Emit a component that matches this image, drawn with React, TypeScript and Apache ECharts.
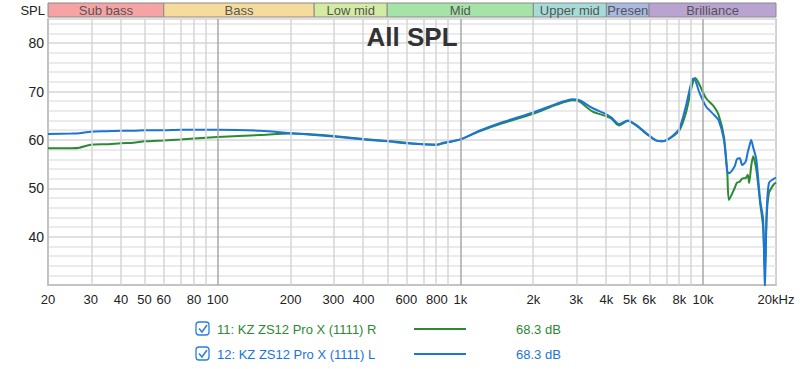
import React, { useEffect, useRef } from 'react';
import * as echarts from 'echarts';

const freqs = [20, 25, 27, 30, 35, 40, 45, 50, 60, 70, 80, 100, 150, 200, 250, 300, 400, 500, 600, 700, 800, 850, 900, 1000, 1200, 1500, 2000, 2500, 2900, 3100, 3500, 4000, 4200, 4500, 4900, 5300, 5900, 6400, 6800, 7400, 8000, 8500, 8900, 9100, 9300, 9700, 10300, 11100, 11600, 12200, 12600, 12800, 13500, 13800, 14200, 14500, 15000, 15300, 15500, 15800, 16100, 16600, 17200, 17700, 18000, 18300, 18700, 19500, 20000];

const rightDb = [58.3, 58.3, 58.4, 59.0, 59.1, 59.3, 59.4, 59.7, 59.9, 60.1, 60.3, 60.6, 61.0, 61.3, 61.1, 60.8, 60.2, 59.8, 59.4, 59.1, 59.0, 59.3, 59.6, 60.1, 61.8, 63.5, 65.4, 67.3, 68.2, 67.9, 65.9, 64.9, 64.4, 63.0, 63.9, 63.0, 61.1, 59.9, 59.7, 60.5, 62.0, 65.5, 70.0, 72.0, 72.8, 71.3, 68.6, 66.9, 65.2, 60.7, 53.1, 47.6, 50.0, 51.1, 51.4, 52.0, 52.1, 52.8, 51.1, 54.5, 56.6, 53.8, 47.0, 42.0, 33.0, 44.0, 49.0, 50.7, 51.2];

const leftDb = [61.2, 61.3, 61.4, 61.7, 61.8, 61.9, 61.9, 62.0, 62.0, 62.1, 62.1, 62.1, 61.9, 61.4, 61.0, 60.7, 60.1, 59.7, 59.3, 59.1, 59.0, 59.4, 59.6, 60.1, 61.9, 63.7, 65.7, 67.5, 68.4, 68.2, 66.6, 65.3, 64.6, 63.3, 64.0, 63.1, 61.2, 59.9, 59.7, 60.6, 62.4, 66.9, 71.3, 72.7, 72.3, 69.6, 66.9, 65.2, 64.1, 60.0, 53.5, 53.1, 54.5, 56.0, 56.2, 54.8, 55.5, 57.5, 58.5, 60.0, 58.5, 55.9, 47.6, 43.5, 29.0, 45.0, 51.1, 51.9, 52.2];

const xTickFreqs = [20, 30, 40, 50, 60, 80, 100, 200, 300, 400, 600, 800, 1000, 2000, 3000, 4000, 5000, 6000, 8000, 10000, 20000];
const gridFreqs = [30, 40, 50, 60, 70, 80, 90, 100, 200, 300, 400, 500, 600, 700, 800, 900, 1000, 2000, 3000, 4000, 5000, 6000, 7000, 8000, 9000, 10000];
const majorGridFreqs = [100, 1000, 10000];

const bandNames = ['Sub bass', 'Bass', 'Low mid', 'Mid', 'Upper mid', 'Presence', 'Brilliance'];
const bandEdges = [20, 60, 250, 500, 2000, 4000, 6000, 20000];
const bandColors = ['#f5a3a5', '#f6dc9c', '#d3eba2', '#a6e3a6', '#a6dcd7', '#a9b9e2', '#b9a3d0'];

const legendNames = ['11: KZ ZS12 Pro X (1111) R', '12: KZ ZS12 Pro X (1111) L'];
const legendValues = ['68.3 dB', '68.3 dB'];
const seriesColors = ['#2b8a32', '#1b74da'];

const FONT = '"Liberation Sans", Arial, Helvetica, sans-serif';
const lg = (f: number) => Math.log10(f);

function fmtFreq(v: number): string {
  const f = Math.round(Math.pow(10, v));
  if (f >= 20000) return '20kHz';
  if (f >= 1000) return f / 1000 + 'k';
  return String(f);
}

export default function App() {
  const ref = useRef<HTMLDivElement>(null);

  useEffect(() => {
    if (!ref.current) return;
    const chart = echarts.init(ref.current, null, { renderer: 'svg' });

    const legendGraphics: any[] = [];
    legendNames.forEach((name, i) => {
      const cy = 329 + i * 25;
      const c = seriesColors[i];
      legendGraphics.push(
        {
          type: 'rect',
          shape: { x: 196, y: cy - 7, width: 13, height: 13, r: 3 },
          style: { fill: '#fff', stroke: '#2a7de1', lineWidth: 1.3 },
        },
        {
          type: 'polyline',
          shape: { points: [[199, cy - 0.5], [202, cy + 3], [207, cy - 4]] },
          style: { fill: 'none', stroke: '#2a7de1', lineWidth: 1.5 },
        },
        {
          type: 'text',
          x: 217,
          y: cy,
          style: { text: name, fill: c, font: `13px ${FONT}`, textVerticalAlign: 'middle', textAlign: 'left' },
        },
        {
          type: 'line',
          shape: { x1: 414, y1: cy, x2: 466, y2: cy },
          style: { stroke: c, lineWidth: 2 },
        },
        {
          type: 'text',
          x: 516,
          y: cy,
          style: { text: legendValues[i], fill: c, font: `13px ${FONT}`, textVerticalAlign: 'middle', textAlign: 'left' },
        }
      );
    });

    const bandAreas = bandNames.map((name, i) => [
      {
        name,
        xAxis: lg(bandEdges[i]),
        itemStyle: { color: bandColors[i], borderColor: '#8a8a8a', borderWidth: 1 },
        label:
          name === 'Presence'
            ? { width: 46, overflow: 'truncate', ellipsis: '' }
            : undefined,
      },
      { xAxis: lg(bandEdges[i + 1]) },
    ]);

    const option: any = {
      animation: false,
      backgroundColor: '#fff',
      textStyle: { fontFamily: FONT },
      grid: [
        {
          left: 48, right: 24, top: 19, bottom: 84,
          show: true, borderColor: '#c4c4c4', borderWidth: 1.5, backgroundColor: '#fff',
        },
        { left: 48, right: 24, top: 3, height: 14, show: false },
      ],
      xAxis: [
        {
          type: 'value', gridIndex: 0,
          min: lg(20), max: lg(20000),
          axisLine: { show: true, lineStyle: { color: '#bdbdbd', width: 1.5 } },
          axisTick: { show: false },
          splitLine: { show: false },
          axisLabel: {
            customValues: xTickFreqs.map(lg),
            formatter: (v: number) => fmtFreq(v),
            color: '#222', fontSize: 13, fontFamily: FONT, margin: 8,
            showMinLabel: true, showMaxLabel: true,
          },
        },
        {
          type: 'value', gridIndex: 1, min: lg(20), max: lg(20000),
          show: false,
        },
      ],
      yAxis: [
        {
          type: 'value', gridIndex: 0, min: 30, max: 85, interval: 2,
          axisLine: { show: true, lineStyle: { color: '#bdbdbd', width: 1.5 } },
          axisTick: { show: false },
          splitLine: {
            show: true,
            lineStyle: { color: ['#d6d6d6', '#e4e4e4', '#e4e4e4', '#e4e4e4', '#e4e4e4'], width: 1.5 },
          },
          axisLabel: {
            interval: 0,
            formatter: (v: number) => (v % 10 === 0 && v !== 30 ? String(v) : ''),
            color: '#222', fontSize: 14, fontFamily: FONT, margin: 4,
          },
        },
        { type: 'value', gridIndex: 1, min: 0, max: 1, show: false },
      ],
      graphic: [
        {
          type: 'text', x: 45, y: 10,
          style: { text: 'SPL', fill: '#222', font: `13px ${FONT}`, textAlign: 'right', textVerticalAlign: 'middle' },
        },
        {
          type: 'text', x: 412, y: 37, z: 10,
          style: { text: 'All SPL', fill: '#333', font: `bold 26px ${FONT}`, textAlign: 'center', textVerticalAlign: 'middle' },
        },
        ...legendGraphics,
      ],
      series: [
        {
          type: 'line', xAxisIndex: 1, yAxisIndex: 1, data: [], silent: true,
          markArea: {
            silent: true,
            label: { show: true, position: 'inside', color: '#555', fontSize: 13, fontFamily: FONT },
            data: bandAreas,
          },
        },
        {
          type: 'line', xAxisIndex: 0, yAxisIndex: 0, data: [], silent: true, z: 1,
          markLine: {
            silent: true, symbol: 'none', label: { show: false },
            data: gridFreqs.map((f) => ({
              xAxis: lg(f),
              lineStyle: {
                color: majorGridFreqs.includes(f) ? '#a9a9a9' : '#d6d6d6',
                width: 1.5,
                type: 'solid',
              },
            })),
          },
        },
        {
          name: legendNames[0], type: 'line', z: 3,
          data: freqs.map((f, i) => [lg(f), rightDb[i]]),
          showSymbol: false, smooth: 0.25, clip: true,
          lineStyle: { color: seriesColors[0], width: 2 },
        },
        {
          name: legendNames[1], type: 'line', z: 4,
          data: freqs.map((f, i) => [lg(f), leftDb[i]]),
          showSymbol: false, smooth: 0.25, clip: true,
          lineStyle: { color: seriesColors[1], width: 2 },
        },
      ],
    };

    chart.setOption(option);
    return () => chart.dispose();
  }, []);

  return <div ref={ref} style={{ position: 'fixed', left: 0, top: 0, width: 800, height: 369 }} />;
}
